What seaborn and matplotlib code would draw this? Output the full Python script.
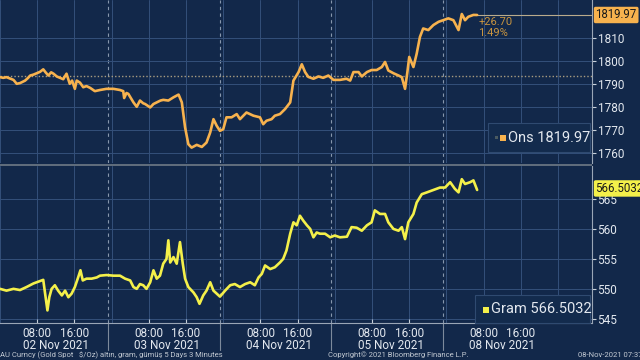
import matplotlib
matplotlib.use("Agg")
import matplotlib.pyplot as plt
import seaborn as sns
from matplotlib.transforms import blended_transform_factory
from matplotlib.patches import Rectangle

# ---------------- data ----------------
ons_hours = [0.0, 0.7, 1.4, 2.9, 3.6, 4.3, 5.0, 5.4, 6.0, 6.5, 7.2, 7.9, 8.6, 9.3, 9.8, 10.4,
             11.0, 11.5, 12.2, 12.9, 13.6, 14.3, 15.0, 15.5, 16.1, 16.5, 17.2, 17.9, 18.6, 19.4,
             20.4, 21.5, 22.9, 24.4, 25.8, 26.5, 26.7, 27.2, 27.6, 28.7, 29.4, 30.1, 30.8, 31.2,
             32.3, 33.0, 33.7, 34.5, 35.1, 36.2, 37.3, 38.4, 39.1, 39.8, 40.5, 41.2, 42.3, 43.4,
             44.4, 45.2, 45.9, 46.6, 47.3, 48.0, 48.7, 49.8, 50.9, 51.6, 53.0, 54.5, 55.9, 56.6,
             57.3, 58.4, 59.1, 60.2, 61.3, 62.4, 63.1, 64.2, 64.9, 65.6, 66.3, 67.4, 68.5, 69.5,
             70.6, 71.7, 73.1, 74.5, 75.3, 76.0, 77.1, 77.8, 78.9, 79.9, 81.0, 82.1, 82.8, 83.5,
             84.6, 85.7, 86.4, 87.1, 87.6, 88.0, 88.9, 89.6, 90.3, 91.0, 92.1, 93.2, 94.3, 95.3,
             96.4, 97.5, 98.6, 99.3, 100.0, 100.7, 101.8, 102.6]
ons_values = [1792.9, 1792.6, 1792.9, 1791.7, 1790.0, 1790.3, 1791.0, 1791.4, 1792.5, 1793.6, 1794.0,
              1794.6, 1795.2, 1796.3, 1795.0, 1793.6, 1795.0, 1794.4, 1793.2, 1792.6, 1792.0, 1794.4,
              1790.0, 1791.4, 1787.8, 1791.4, 1790.5, 1788.5, 1789.0, 1788.2, 1786.8, 1787.3, 1787.8,
              1787.8, 1787.3, 1786.8, 1783.8, 1786.0, 1785.6, 1781.9, 1780.0, 1782.7, 1781.5, 1781.2,
              1779.7, 1781.2, 1781.9, 1782.7, 1783.0, 1782.7, 1784.1, 1785.3, 1781.9, 1771.0, 1763.7,
              1762.2, 1763.4, 1762.5, 1764.4, 1768.8, 1774.6, 1771.7, 1769.5, 1770.2, 1775.4, 1775.4,
              1776.8, 1774.6, 1777.5, 1776.1, 1775.4, 1772.4, 1773.9, 1774.6, 1776.1, 1776.8, 1779.0,
              1781.9, 1791.4, 1795.1, 1798.5, 1795.1, 1793.0, 1792.2, 1793.2, 1792.6, 1793.6, 1791.7,
              1791.7, 1792.2, 1791.4, 1795.1, 1795.1, 1793.2, 1795.1, 1796.0, 1796.0, 1797.3, 1799.5,
              1795.8, 1794.6, 1793.6, 1792.9, 1787.8, 1795.1, 1801.7, 1797.3, 1803.1, 1810.4, 1814.1,
              1813.4, 1815.6, 1817.0, 1817.7, 1818.5, 1817.7, 1813.4, 1820.4, 1817.7, 1819.2, 1820.0,
              1819.97]

gram_hours = [0.0, 1.4, 2.9, 4.3, 5.7, 7.2, 8.6, 9.3, 9.7, 10.2, 10.6, 11.1, 11.8, 12.5, 13.3, 14.0,
              14.7, 15.4, 16.1, 16.8, 17.3, 17.8, 18.6, 19.7, 20.8, 21.5, 22.9, 24.4, 25.8, 26.9,
              28.0, 28.7, 29.4, 30.1, 30.8, 31.5, 32.3, 33.0, 33.7, 34.4, 35.1, 35.8, 36.2, 36.6,
              37.3, 38.0, 38.7, 39.3, 39.8, 40.5, 41.6, 42.3, 42.9, 43.7, 44.4, 45.2, 45.9, 46.6,
              47.3, 48.4, 49.5, 50.5, 51.6, 52.7, 53.8, 54.8, 55.6, 56.3, 57.0, 58.1, 59.1, 60.2,
              60.9, 61.6, 62.4, 63.1, 63.8, 64.5, 65.2, 66.0, 66.7, 67.4, 68.1, 68.8, 69.9, 71.0,
              72.0, 73.1, 74.6, 75.6, 76.7, 77.8, 78.9, 79.9, 80.6, 81.7, 82.8, 83.5, 84.6, 85.7,
              86.4, 87.1, 87.8, 88.9, 89.6, 90.7, 91.8, 93.2, 94.6, 95.7, 96.8, 97.8, 98.6, 99.3,
              100.0, 101.1, 101.8, 102.6]
gram_values = [550.0, 549.7, 550.0, 549.8, 550.3, 550.9, 551.3, 551.5, 549.2, 546.4, 548.6, 550.0,
               550.6, 549.7, 548.9, 549.7, 548.6, 549.2, 550.3, 551.9, 553.1, 551.4, 551.7, 551.7,
               551.9, 552.2, 552.3, 552.2, 552.2, 551.7, 551.4, 550.3, 550.0, 550.8, 550.6, 550.0,
               551.1, 553.1, 551.7, 552.2, 554.2, 555.0, 558.1, 554.4, 555.3, 554.2, 557.8, 554.2,
               551.7, 550.3, 549.4, 548.6, 547.5, 548.9, 549.7, 551.1, 549.7, 549.2, 548.7, 549.7,
               550.6, 550.8, 550.3, 550.8, 551.1, 550.6, 551.9, 552.5, 553.9, 553.3, 553.6, 554.4,
               555.0, 556.4, 559.2, 561.1, 560.6, 562.2, 561.4, 560.6, 560.0, 558.6, 559.4, 559.2,
               559.2, 558.6, 558.9, 558.6, 558.7, 560.3, 560.2, 559.7, 560.6, 561.1, 563.1, 562.5,
               562.5, 561.1, 560.0, 559.7, 560.3, 558.3, 561.1, 562.5, 564.4, 565.8, 566.1, 566.5,
               566.9, 566.9, 567.8, 566.7, 566.1, 568.3, 567.5, 567.8, 568.1, 566.5032]

ons_ticks = [1760, 1770, 1780, 1790, 1800, 1810]
gram_ticks = [545, 550, 555, 560, 565]
day_labels = ["02 Nov 2021", "03 Nov 2021", "04 Nov 2021", "05 Nov 2021", "08 Nov 2021"]
hour_labels = ["08:00", "16:00"]
ons_last = 1819.97
ons_change = 26.70
ons_change_label = "+26.70"
ons_pct_label = "1.49%"
gram_last = 566.5032

# ---------------- style ----------------
sns.set_theme(style="dark")
plt.rcParams['font.family'] = ['Roboto', 'DejaVu Sans']

BG = '#12284a'
GRID = '#34507a'
SEP = '#8797ad'
TXT = '#e3e8ef'
ORANGE = '#f7b24e'
YELLOW = '#f4f04a'

W, H = 640, 360
XMAX = 127.3

fig = plt.figure(figsize=(6.4, 3.6), dpi=100, facecolor=BG)
ax1 = fig.add_axes([0, 1 - 163 / H, 592 / W, 163 / H])
ax2 = fig.add_axes([0, 1 - 323 / H, 592 / W, (323 - 166) / H])

for ax, ticks in ((ax1, ons_ticks), (ax2, gram_ticks)):
    ax.set_facecolor(BG)
    ax.set_xlim(0, XMAX)
    for s in ('top', 'left', 'bottom'):
        ax.spines[s].set_visible(False)
    ax.spines['right'].set_color('#9aa6b6')
    ax.spines['right'].set_linewidth(0.8)
    for h in range(0, 128, 8):
        ax.axvline(h, color=GRID, lw=0.7, zorder=0)
    for d in range(4):
        ax.axvline(23.2 + 24 * d, color=SEP, lw=0.8, ls=(0, (3, 3)), zorder=0)
    for t in ticks:
        ax.axhline(t, color=GRID, lw=0.7, zorder=0)
    ax.yaxis.tick_right()
    ax.set_yticks(ticks)
    ax.set_yticklabels([str(t) for t in ticks])
    ax.tick_params(axis='y', colors='#c8d0da', labelcolor=TXT, labelsize=8.5,
                   length=3, width=0.8, pad=1, direction='out')
    ax.set_xlabel('')
    ax.set_ylabel('')

ax1.set_ylim(1755.5, 1826.5)
ax2.set_ylim(544.3, 570.5)

# lines
sns.lineplot(x=ons_hours, y=ons_values, ax=ax1, color=ORANGE, lw=1.9, estimator=None, sort=False, zorder=3)
sns.lineplot(x=gram_hours, y=gram_values, ax=ax2, color=YELLOW, lw=1.9, estimator=None, sort=False, zorder=3)

# previous close dotted line and last-value line
ax1.axhline(ons_last - ons_change, color='#a89c80', ls=(0, (1, 1.5)), lw=1.0, zorder=1)
ax1.plot([ons_hours[-1], XMAX], [ons_last, ons_last], color='#b9ab8c', lw=0.8, zorder=1)

ax1.annotate(ons_change_label, xy=(ons_hours[-1], ons_last), xytext=(1, -7),
             textcoords='offset pixels', ha='left', va='center', fontsize=8, color='#c99540')
ax1.annotate(ons_pct_label, xy=(ons_hours[-1], ons_last), xytext=(1, -18),
             textcoords='offset pixels', ha='left', va='center', fontsize=8, color='#c99540')

# last value boxes on the right axis
tr1 = blended_transform_factory(ax1.transAxes, ax1.transData)
ax1.text(1.006, ons_last, f"{ons_last:.2f}", transform=tr1, ha='left', va='center',
         fontsize=8.3, color='#1b1b1b', clip_on=False,
         bbox=dict(boxstyle='round,pad=0.15', fc=ORANGE, ec='none'))
tr2 = blended_transform_factory(ax2.transAxes, ax2.transData)
ax2.text(1.006, gram_last + 0.25, f"{gram_last:.4f}", transform=tr2, ha='left', va='center',
         fontsize=8.3, color='#1b1b1b', clip_on=False,
         bbox=dict(boxstyle='round,pad=0.15', fc=YELLOW, ec='none'))

# x axis
ax1.tick_params(axis='x', bottom=False, labelbottom=False)
xt, xl = [], []
for d in range(5):
    for i, lab in enumerate(hour_labels):
        xt.append(24 * d + 8 * (i + 1))
        xl.append(lab)
ax2.set_xticks(xt)
ax2.set_xticklabels(xl)
ax2.spines['bottom'].set_visible(True)
ax2.spines['bottom'].set_color('#9aa6b6')
ax2.spines['bottom'].set_linewidth(0.8)
ax2.tick_params(axis='x', colors='#c8d0da', labelcolor=TXT, labelsize=8.5,
                length=3, width=0.8, pad=3, direction='in', bottom=True)
trx = blended_transform_factory(ax2.transData, ax2.transAxes)
for d, lab in enumerate(day_labels):
    ax2.annotate(lab, xy=(24 * d + 12, 0), xycoords=trx, xytext=(0, -16),
                 textcoords='offset pixels', ha='center', va='top', fontsize=8.5, color=TXT)
for d in range(4):
    ax2.plot([23.2 + 24 * d] * 2, [0, -0.17], transform=trx, color='#7d8a9c', lw=0.8, clip_on=False)

# panel separator
fig.add_artist(Rectangle((0, 1 - 166 / H), 592 / W, 2.5 / H, transform=fig.transFigure,
                         fc='#5f6c7c', ec='none', zorder=5))

# legend boxes
def legend_box(x0, y0, x1, y1, sq_color, label, tx, extra=False):
    fig.add_artist(Rectangle((x0 / W, 1 - y1 / H), (x1 - x0) / W, (y1 - y0) / H,
                             transform=fig.transFigure, fc='#132b4d', ec='#2f4a70', lw=0.8, zorder=6))
    yc = (y0 + y1) / 2
    if extra:
        fig.add_artist(Rectangle(((tx - 13) / W, 1 - (yc + 2) / H), 3 / W, 4 / H,
                                 transform=fig.transFigure, fc='#4a5a60', ec='none', zorder=7))
    fig.add_artist(Rectangle(((tx - 8) / W, 1 - (yc + 3.5) / H), 6 / W, 6 / H,
                             transform=fig.transFigure, fc=sq_color, ec='none', zorder=7))
    fig.text(tx / W, 1 - yc / H, label, ha='left', va='center', fontsize=10.5, color=TXT, zorder=8)

legend_box(488, 123, 590, 152, ORANGE, f"Ons {ons_last:.2f}", 508, extra=True)
legend_box(475, 295, 590, 323, YELLOW, f"Gram {gram_last:.4f}", 491)

# footer
fig.text(0.0, 1 - 355 / H, "AU Curncy (Gold Spot   $/Oz) altın, gram, gümüş 5 Days 3 Minutes",
         ha='left', va='center', fontsize=5.5, color='#c3cad3')
fig.text(328 / W, 1 - 355 / H, "Copyright© 2021 Bloomberg Finance L.P.",
         ha='left', va='center', fontsize=5.5, color='#c3cad3')
fig.text(578 / W, 1 - 355 / H, "08-Nov-2021 07:37:03",
         ha='left', va='center', fontsize=5.5, color='#c3cad3')

fig.savefig("out.png", dpi=100, facecolor=BG)
